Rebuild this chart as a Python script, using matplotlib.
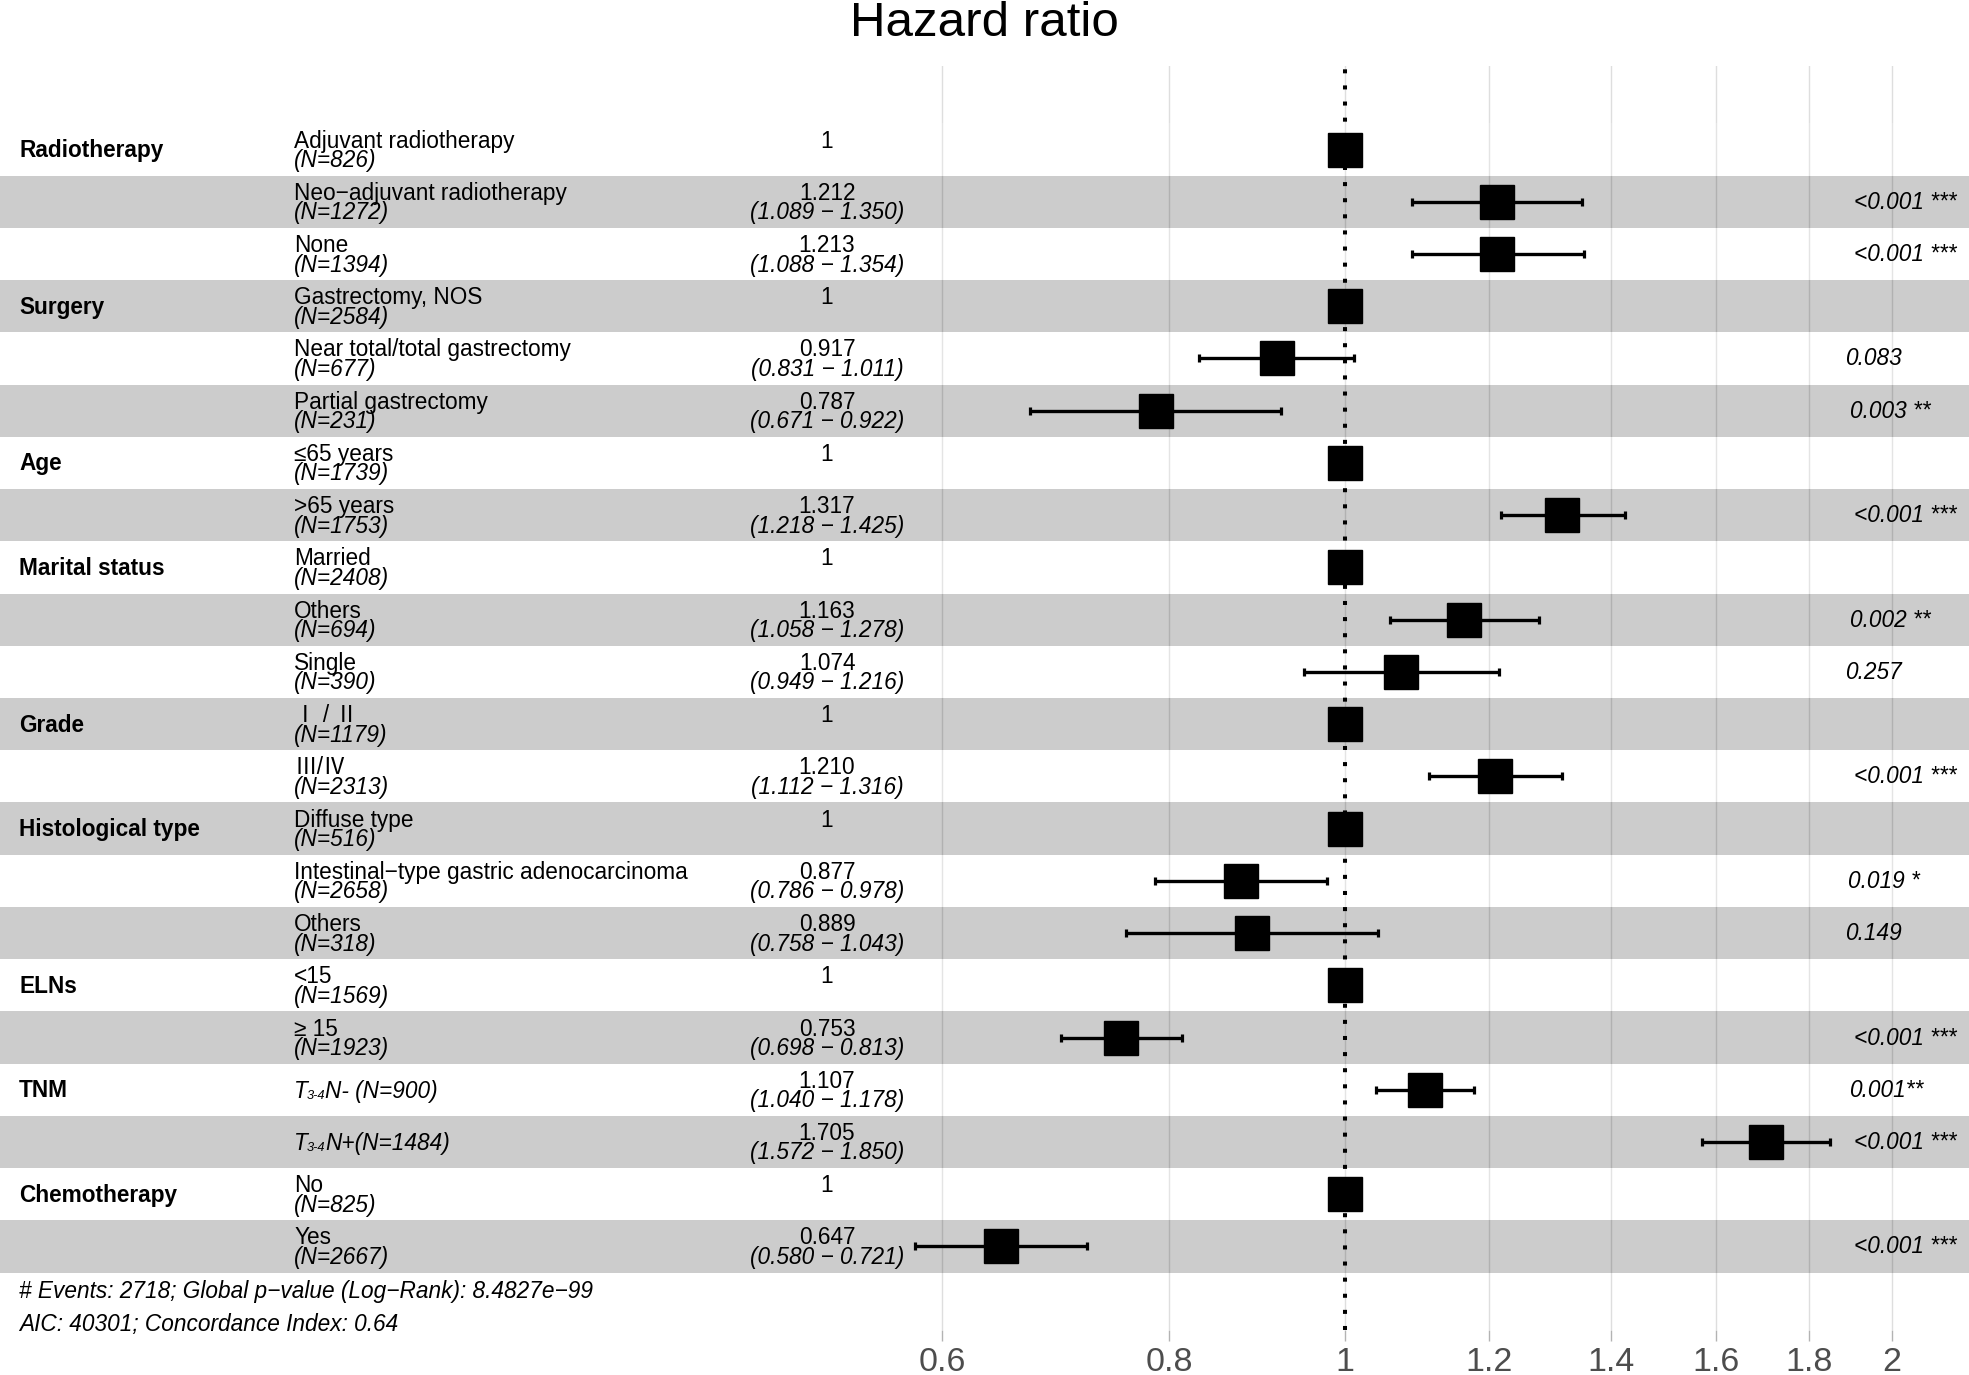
import numpy as np
import matplotlib
matplotlib.use("Agg")
import matplotlib.pyplot as plt
from matplotlib.transforms import blended_transform_factory, offset_copy
from matplotlib.ticker import NullLocator

plt.rcParams['font.family'] = ['Liberation Sans', 'Noto Sans CJK SC', 'DejaVu Sans']

# ---------------- data ----------------
variables = ["Radiotherapy", "", "", "Surgery", "", "", "Age", "", "Marital status", "", "",
             "Grade", "", "Histological type", "", "", "ELNs", "", "TNM", "", "Chemotherapy", ""]
levels = ["Adjuvant radiotherapy", "Neo\u2212adjuvant radiotherapy", "None",
          "Gastrectomy, NOS", "Near total/total gastrectomy", "Partial gastrectomy",
          "\u226465 years", ">65 years",
          "Married", "Others", "Single",
          "\u2160 / \u2161", "\u2162/\u2163",
          "Diffuse type", "Intestinal\u2212type gastric adenocarcinoma", "Others",
          "<15", "\u2265 15",
          "", "",
          "No", "Yes"]
n_counts = [826, 1272, 1394, 2584, 677, 231, 1739, 1753, 2408, 694, 390,
            1179, 2313, 516, 2658, 318, 1569, 1923, 900, 1484, 825, 2667]
tnm_suffix = ["N- (N=900)", "N+(N=1484)"]
is_reference = [True, False, False, True, False, False, True, False, True, False, False,
                True, False, True, False, False, True, False, False, False, True, False]
hazard_ratio = [1, 1.212, 1.213, 1, 0.917, 0.787, 1, 1.317, 1, 1.163, 1.074,
                1, 1.210, 1, 0.877, 0.889, 1, 0.753, 1.107, 1.705, 1, 0.647]
ci_low = [np.nan, 1.089, 1.088, np.nan, 0.831, 0.671, np.nan, 1.218, np.nan, 1.058, 0.949,
          np.nan, 1.112, np.nan, 0.786, 0.758, np.nan, 0.698, 1.040, 1.572, np.nan, 0.580]
ci_high = [np.nan, 1.350, 1.354, np.nan, 1.011, 0.922, np.nan, 1.425, np.nan, 1.278, 1.216,
           np.nan, 1.316, np.nan, 0.978, 1.043, np.nan, 0.813, 1.178, 1.850, np.nan, 0.721]
p_labels = ["", "<0.001 ***", "<0.001 ***", "", "0.083", "0.003 **", "", "<0.001 ***",
            "", "0.002 **", "0.257", "", "<0.001 ***", "", "0.019 *", "0.149", "",
            "<0.001 ***", "0.001**", "<0.001 ***", "", "<0.001 ***"]
x_breaks = [0.6, 0.8, 1, 1.2, 1.4, 1.6, 1.8, 2]
x_tick_labels = ["0.6", "0.8", "1", "1.2", "1.4", "1.6", "1.8", "2"]
footer_lines = ["# Events: 2718; Global p\u2212value (Log\u2212Rank): 8.4827e\u221299",
                "AIC: 40301; Concordance Index: 0.64"]
title = "Hazard ratio"

# ---------------- figure ----------------
W, H = 1969, 1375
fig = plt.figure(figsize=(W / 100, H / 100), dpi=100)
panel_top_px, panel_bot_px = 66, 1330
ax = fig.add_axes([0, (H - panel_bot_px) / H, 1, (panel_bot_px - panel_top_px) / H])
ax.set_xscale('log')
ax.set_xlim(0.18187, 2.2050)
nrows = len(levels)
rows = np.arange(1, nrows + 1)
ax.set_ylim(nrows + 1.6, -0.6)
for s in ax.spines.values():
    s.set_visible(False)
ax.set_yticks([])
ax.set_xticks(x_breaks)
ax.set_xticklabels(x_tick_labels)
ax.xaxis.set_minor_locator(NullLocator())
ax.tick_params(axis='x', length=8, width=1.0, color='#B3B3B3', labelsize=24.5,
               labelcolor='#4D4D4D', pad=4.5)

# grid
for b in x_breaks:
    ax.axvline(b, color='#DEDEDE', lw=1.0, zorder=0.5)
# bands
for r in rows:
    if r % 2 == 0:
        ax.axhspan(r - 0.5, r + 0.5, color='black', alpha=0.2, lw=0, zorder=1)
    else:
        ax.axhspan(r - 0.5, r + 0.5, color='white', alpha=0.2, lw=0, zorder=1)

# reference line
ax.axvline(1, color='black', lw=2.9, ls=(0, (1, 3)), dash_capstyle='butt', zorder=2)

hr = np.array(hazard_ratio, float)
lo = np.array(ci_low, float)
hi = np.array(ci_high, float)
has_ci = ~np.isnan(lo)
ax.errorbar(hr[has_ci], rows[has_ci], xerr=[hr[has_ci] - lo[has_ci], hi[has_ci] - hr[has_ci]],
            fmt='none', ecolor='black', elinewidth=2.4, capsize=2.9, capthick=2.3, zorder=3)
ax.plot(hr, rows, 's', ms=24.2, mew=1, color='black', zorder=4)

# ---------------- text ----------------
fs = 16.3
tr = blended_transform_factory(ax.transAxes, ax.transData)

def off(dx, dy):
    return offset_copy(tr, fig=fig, x=dx, y=dy, units='dots')

x_var = 19 / W
x_level = 294 / W
x_est = 827 / W
x_p = 1834 / W
line1_dy = 2.0
line2_dy = -17.5

texts_p = []
tnm_parts = []
tnm_i = 0
for i, r in enumerate(rows):
    if variables[i]:
        ax.text(x_var, r, variables[i], transform=off(0, -7.5), ha='left', va='baseline',
                fontsize=fs, fontweight='bold', zorder=5)
    if levels[i]:
        ax.text(x_level, r, levels[i], transform=off(0, line1_dy), ha='left', va='baseline',
                fontsize=fs, zorder=5)
        ax.text(x_level, r, f"(N={n_counts[i]})", transform=off(0, line2_dy), ha='left',
                va='baseline', fontsize=fs, fontstyle='italic', zorder=5)
    else:
        t1 = ax.text(x_level, r, "T", transform=off(0, -8), ha='left', va='baseline',
                     fontsize=fs, fontstyle='italic', zorder=5)
        t2 = ax.text(x_level, r, "3-4", transform=off(0, -9), ha='left', va='baseline',
                     fontsize=9.3, fontstyle='italic', zorder=5)
        t3 = ax.text(x_level, r, tnm_suffix[tnm_i], transform=off(0, -8), ha='left',
                     va='baseline', fontsize=fs, fontstyle='italic', zorder=5)
        tnm_parts.append((r, t1, t2, t3))
        tnm_i += 1
    if is_reference[i]:
        ax.text(x_est, r, "1", transform=off(0, line1_dy), ha='center', va='baseline',
                fontsize=fs, zorder=5)
    else:
        ax.text(x_est, r, f"{hazard_ratio[i]:.3f}", transform=off(0, line1_dy), ha='center',
                va='baseline', fontsize=fs, zorder=5)
        ax.text(x_est, r, f"({ci_low[i]:.3f} \u2212 {ci_high[i]:.3f})",
                transform=off(0, line2_dy), ha='center', va='baseline', fontsize=fs,
                fontstyle='italic', zorder=5)
    if p_labels[i]:
        t = ax.text(x_p, r, p_labels[i], transform=off(0, -7), ha='left', va='baseline',
                    fontsize=fs, fontstyle='italic', zorder=5)
        texts_p.append((r, t))

# footer
ax.text(19 / W, nrows + 0.5, footer_lines[0], transform=off(0, -25), ha='left',
        va='baseline', fontsize=fs, fontstyle='italic', zorder=5)
ax.text(19 / W, nrows + 0.5, footer_lines[1], transform=off(0, -58), ha='left',
        va='baseline', fontsize=fs, fontstyle='italic', zorder=5)

fig.text(984 / W, 1 - 35.7 / H, title, ha='center', va='baseline', fontsize=35.5)

# adjust positions that depend on text widths
fig.canvas.draw()
renderer = fig.canvas.get_renderer()
for r, t in texts_p:
    w = t.get_window_extent(renderer).width
    t.set_transform(off(0.2 * w, -7))
for r, t1, t2, t3 in tnm_parts:
    w1 = t1.get_window_extent(renderer).width
    w2 = t2.get_window_extent(renderer).width
    t2.set_transform(off(w1 - 1, -9))
    t3.set_transform(off(w1 + w2 - 1, -8))

fig.savefig("out.png", dpi=100)
